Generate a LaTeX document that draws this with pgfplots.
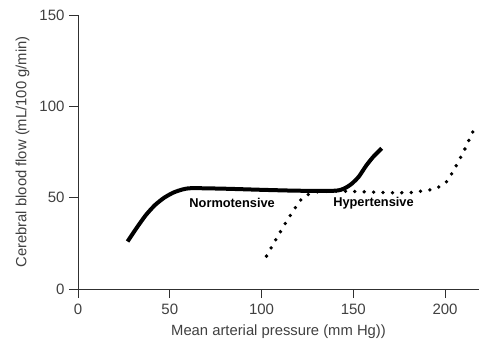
\documentclass[border=0pt]{standalone}
\usepackage{fontspec}
\setmainfont{Liberation Sans}
\usepackage{pgfplots}
\pgfplotsset{compat=1.18}
\definecolor{txt}{HTML}{404040}
\definecolor{ax}{HTML}{303030}
\begin{document}
\begin{tikzpicture}[x=1pt,y=1pt]
\begin{axis}[
  at={(0,0)}, anchor=south west,
  scale only axis, width=401pt, height=274pt,
  xmin=0, xmax=218.5, ymin=0, ymax=150,
  axis lines=left,
  axis line style={ax, line width=0.9pt, -},
  xtick={0,50,100,150,200}, ytick={0,50,100,150},
  tick align=outside, major tick length=9pt,
  tick style={ax, line width=0.9pt},
  /pgf/number format/assume math mode=true,
  ticklabel style={font=\fontsize{15}{17}\selectfont, text=txt},
  yticklabel style={xshift=-1pt},
  xticklabel style={yshift=-2pt},
  xlabel={Mean arterial pressure (mm Hg))},
  ylabel={Cerebral blood flow (mL/100 g/min)},
  label style={font=\fontsize{14.8}{17}\selectfont, text=txt},
  xlabel style={at={(axis description cs:0.5,0)}, anchor=north, yshift=-32pt},
  ylabel style={at={(axis description cs:0,0.5)}, anchor=south, yshift=45pt},
  clip=false,
]
\addplot[black, line width=4pt, line join=round, smooth, tension=0.4] coordinates {
(27,26) (32,33.5) (37,40.5) (42,46) (47,50) (52,52.8) (57,54.5) (62,55.2) (80,54.9) (100,54.3) (120,53.8) (140,53.8) (145,55) (149,57.5) (153,61.5) (157,67.5) (161,72.5) (165.5,77)
};
\addplot[black, line width=3.8pt, line cap=round, dash pattern=on 0pt off 9.4pt, smooth, tension=0.4] coordinates {
(102.7,18) (107.7,26.8) (113,36) (118.4,44.5) (121.3,48.7) (125.5,51.8) (131,53.3) (140,53.6) (150,53.4) (161,53) (171,52.7) (181,52.8) (186.5,53.5) (191.5,54.2) (196.3,55.7) (200.9,58.8) (205.8,67) (210.5,76) (215,85.8) (217.2,90.3)
};
\node[font=\bfseries\fontsize{12.8}{15}\selectfont, black] at (axis cs:84,47) {Normotensive};
\node[font=\bfseries\fontsize{12.8}{15}\selectfont, black] at (axis cs:161,47) {Hypertensive};
\draw[ax, line width=0.9pt] (axis cs:0,0) -- ++(-9pt,0);
\end{axis}
\path[use as bounding box] (-78pt,-61pt) rectangle (422pt,289pt);
\end{tikzpicture}
\end{document}
